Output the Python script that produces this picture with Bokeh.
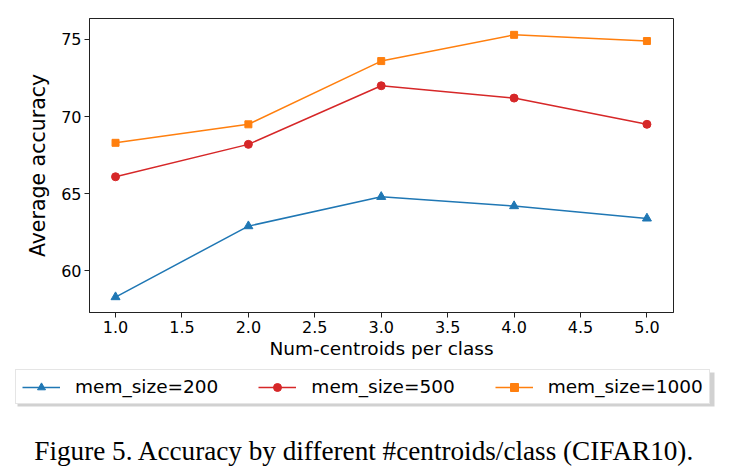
from bokeh.plotting import figure
from bokeh.layouts import column, row
from bokeh.models import (Legend, LegendItem, Label, FixedTicker, NumeralTickFormatter,
                          Range1d, BoxAnnotation)
from bokeh.embed import file_html
from bokeh.resources import INLINE

x_vals = [1.0, 2.0, 3.0, 4.0, 5.0]
acc_200 = [58.3, 62.9, 64.8, 64.2, 63.4]
acc_500 = [66.1, 68.2, 72.0, 71.2, 69.5]
acc_1000 = [68.3, 69.5, 73.6, 75.3, 74.9]
labels = ["mem_size=200", "mem_size=500", "mem_size=1000"]
x_ticks = [1.0, 1.5, 2.0, 2.5, 3.0, 3.5, 4.0, 4.5, 5.0]
y_ticks = [60, 65, 70, 75]
caption = "Figure 5. Accuracy by different #centroids/class (CIFAR10)."

FONT = "DejaVu Sans"
c_blue, c_red, c_orange = "#1f77b4", "#d62728", "#ff7f0e"

p = figure(frame_width=584, frame_height=294, output_backend="svg", toolbar_location=None,
           x_range=Range1d(0.804, 5.2), y_range=Range1d(57.3, 76.36),
           min_border_left=89, min_border_right=56, min_border_top=18, min_border_bottom=48)
p.xgrid.visible = False
p.ygrid.visible = False
p.outline_line_color = "#222222"
p.outline_line_width = 1
p.background_fill_color = "white"
p.border_fill_color = "white"

for ax in (p.xaxis[0], p.yaxis[0]):
    ax.axis_line_color = "#222222"
    ax.major_tick_line_color = "#222222"
    ax.minor_tick_line_color = None
    ax.major_tick_out = 5
    ax.major_tick_in = 0
    ax.major_label_standoff = 3
    ax.major_label_text_font = FONT
    ax.major_label_text_font_size = "16px"
    ax.major_label_text_color = "black"
    ax.axis_label_text_font = FONT
    ax.axis_label_text_font_style = "normal"
    ax.axis_label_text_color = "black"

p.xaxis.ticker = FixedTicker(ticks=x_ticks)
p.xaxis.formatter = NumeralTickFormatter(format="0.0")
p.yaxis.ticker = FixedTicker(ticks=y_ticks)
p.xaxis.axis_label = "Num-centroids per class"
p.yaxis.axis_label = "Average accuracy"
p.xaxis.axis_label_text_font_size = "18.5px"
p.yaxis.axis_label_text_font_size = "20.5px"
p.xaxis.axis_label_standoff = 2
p.yaxis.axis_label_standoff = 8

p.line(x_vals, acc_200, line_color=c_blue, line_width=1.5)
p.scatter(x_vals, acc_200, marker="triangle", size=9, color=c_blue)
p.line(x_vals, acc_500, line_color=c_red, line_width=1.5)
p.scatter(x_vals, acc_500, marker="circle", size=8, color=c_red)
p.line(x_vals, acc_1000, line_color=c_orange, line_width=1.5)
p.scatter(x_vals, acc_1000, marker="square", size=7, color=c_orange)

# Lower panel: legend and caption
q = figure(width=729, height=111, output_backend="svg", toolbar_location=None,
           x_range=Range1d(100, 200), y_range=Range1d(100, 200),
           min_border=0, outline_line_color=None)
q.axis.visible = False
q.grid.visible = False
q.background_fill_color = "white"
q.border_fill_color = "white"

r1 = [q.line(x_vals, acc_200, line_color=c_blue, line_width=1.5),
      q.scatter(x_vals, acc_200, marker="triangle", size=7, color=c_blue)]
r2 = [q.line(x_vals, acc_500, line_color=c_red, line_width=1.5),
      q.scatter(x_vals, acc_500, marker="circle", size=6, color=c_red)]
r3 = [q.line(x_vals, acc_1000, line_color=c_orange, line_width=1.5),
      q.scatter(x_vals, acc_1000, marker="square", size=6, color=c_orange)]

shadow = BoxAnnotation(left=17, right=714, bottom=66, top=100,
                       left_units="screen", right_units="screen",
                       bottom_units="screen", top_units="screen",
                       fill_color="#bdbdbd", fill_alpha=0.7, line_color=None,
                       level="underlay")
q.add_layout(shadow)

legend = Legend(items=[
    LegendItem(label=labels[0], renderers=r1),
    LegendItem(label=labels[1], renderers=r2),
    LegendItem(label=labels[2], renderers=r3),
], orientation="horizontal", location=(15, 68))
legend.label_text_font = FONT
legend.label_text_font_size = "18.5px"
legend.label_text_color = "black"
legend.glyph_width = 38
legend.label_standoff = 15
legend.spacing = 40
legend.padding = 6
legend.margin = 0
legend.border_line_color = "#cccccc"
legend.border_line_width = 1
legend.background_fill_color = "white"
legend.background_fill_alpha = 1
q.add_layout(legend, "center")

cap = Label(x=364, y=22, x_units="screen", y_units="screen", text=caption,
            text_align="center", text_baseline="alphabetic",
            text_font="Liberation Serif", text_font_size="27.2px", text_color="black")
q.add_layout(cap)

layout = column(p, row(q), spacing=0)
open("out.html", "w").write(file_html(layout, INLINE))
